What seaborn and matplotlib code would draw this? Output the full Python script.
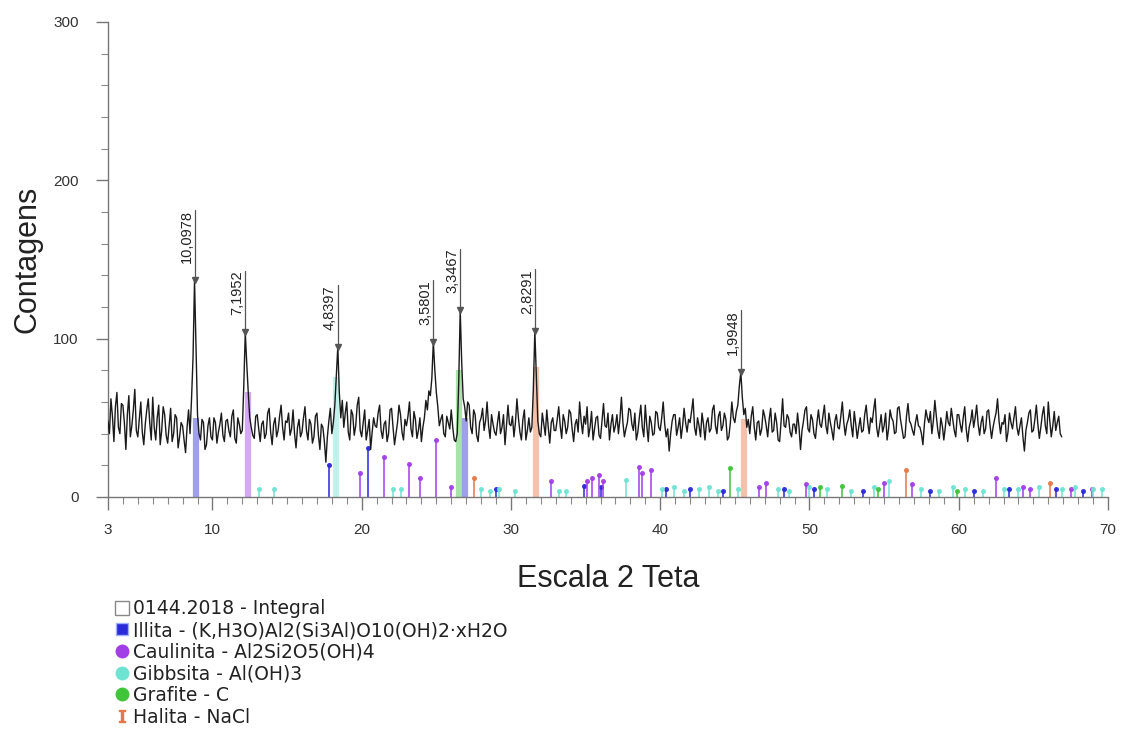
import numpy as np
import pandas as pd
import matplotlib
matplotlib.use("Agg")
import matplotlib.pyplot as plt
from matplotlib.lines import Line2D
from matplotlib.ticker import MultipleLocator
import seaborn as sns

# ---- measured diffractogram (2-theta step 0.1 deg, starting at 3.0) ----
counts = [
    48, 40, 62, 51, 35, 57, 66, 44, 40, 59,    # 3
    58, 47, 30, 52, 64, 38, 45, 55, 68, 42,    # 4
    38, 49, 60, 41, 33, 46, 55, 62, 47, 36,    # 5
    63, 44, 36, 50, 58, 33, 42, 57, 52, 39,    # 6
    34, 45, 56, 35, 40, 52, 50, 31, 38, 47,    # 7
    45, 36, 28, 44, 55, 40, 62, 88, 137, 96,   # 8
    52, 40, 36, 49, 47, 30, 33, 45, 50, 38,    # 9
    36, 50, 47, 34, 41, 46, 53, 39, 35, 48,    # 10
    49, 42, 38, 51, 55, 37, 34, 50, 46, 40,    # 11
    42, 70, 104, 84, 66, 50, 44, 39, 37, 51,   # 12
    52, 43, 35, 46, 48, 37, 40, 53, 56, 41,    # 13
    33, 46, 50, 38, 42, 51, 58, 44, 36, 48,    # 14
    47, 53, 39, 43, 55, 40, 31, 44, 49, 38,    # 15
    41, 50, 57, 42, 36, 49, 46, 34, 38, 51,    # 16
    53, 39, 30, 46, 44, 35, 22, 38, 48, 56,    # 17
    40, 47, 58, 76, 95, 66, 50, 61, 44, 53,    # 18
    60, 41, 36, 55, 52, 39, 45, 58, 63, 42,    # 19
    38, 47, 55, 36, 42, 49, 30, 41, 50, 45,    # 20
    44, 53, 58, 42, 37, 46, 48, 35, 40, 55,    # 21
    56, 44, 33, 40, 47, 58, 52, 41, 36, 49,    # 22
    45, 51, 60, 43, 38, 54, 49, 37, 42, 50,    # 23
    35, 44, 50, 61, 55, 67, 64, 75, 98, 80,    # 24
    66, 57, 45, 49, 52, 40, 38, 51, 47, 43,    # 25
    55, 44, 36, 35, 40, 72, 118, 85, 62, 57,   # 26
    48, 60, 58, 44, 40, 55, 52, 39, 35, 47,    # 27
    50, 56, 42, 48, 60, 45, 37, 52, 46, 41,    # 28
    39, 47, 54, 40, 44, 52, 33, 45, 58, 46,    # 29
    45, 51, 38, 47, 62, 50, 41, 36, 49, 55,    # 30
    36, 42, 50, 41, 44, 68, 105, 77, 48, 40,   # 31
    38, 53, 46, 39, 55, 44, 34, 47, 50, 42,    # 32
    42, 49, 57, 45, 37, 52, 48, 40, 44, 55,    # 33
    53, 43, 35, 46, 49, 41, 60, 48, 40, 51,    # 34
    46, 57, 38, 44, 54, 36, 43, 50, 51, 39,    # 35
    37, 48, 59, 45, 44, 53, 36, 46, 52, 41,    # 36
    45, 52, 40, 49, 63, 47, 38, 43, 47, 56,    # 37
    55, 46, 42, 53, 36, 41, 50, 58, 44, 38,    # 38
    58, 45, 35, 51, 47, 39, 40, 54, 53, 44,    # 39
    42, 50, 60, 46, 38, 43, 29, 40, 48, 52,    # 40
    52, 39, 44, 50, 37, 45, 56, 47, 41, 49,    # 41
    47, 54, 62, 44, 39, 50, 45, 38, 53, 46,    # 42
    36, 47, 50, 41, 43, 55, 58, 45, 40, 51,    # 43
    54, 42, 45, 53, 49, 36, 38, 47, 60, 50,    # 44
    47, 54, 58, 70, 79, 63, 52, 56, 44, 49,    # 45
    40, 51, 57, 44, 36, 47, 48, 39, 43, 55,    # 46
    51, 45, 38, 49, 56, 41, 42, 53, 47, 36,    # 47
    35, 48, 62, 45, 44, 52, 50, 41, 38, 46,    # 48
    46, 40, 53, 44, 30, 42, 48, 55, 57, 43,    # 49
    41, 52, 49, 40, 37, 47, 55, 46, 44, 51,    # 50
    58, 45, 40, 53, 47, 42, 36, 48, 52, 44,    # 51
    43, 51, 60, 47, 39, 46, 49, 55, 45, 38,    # 52
    54, 46, 37, 44, 50, 41, 42, 52, 58, 47,    # 53
    40, 50, 47, 55, 62, 44, 38, 45, 52, 41,    # 54
    45, 53, 36, 43, 55, 50, 48, 40, 41, 56,    # 55
    57, 49, 43, 37, 38, 51, 59, 48, 46, 42,    # 56
    39, 47, 52, 45, 44, 40, 33, 46, 55, 50,    # 57
    47, 54, 40, 48, 61, 51, 42, 37, 50, 45,    # 58
    36, 44, 54, 47, 45, 56, 49, 42, 38, 52,    # 59
    52, 46, 41, 50, 57, 43, 35, 44, 48, 55,    # 60
    44, 50, 58, 46, 39, 47, 51, 40, 43, 54,    # 61
    55, 45, 37, 44, 49, 53, 62, 48, 40, 47,    # 62
    46, 52, 35, 41, 53, 47, 43, 50, 57, 44,    # 63
    39, 45, 50, 38, 29, 42, 47, 53, 55, 41,    # 64
    42, 49, 58, 46, 37, 44, 52, 57, 45, 40,    # 65
    60, 48, 38, 45, 54, 42, 47, 51, 40, 38,    # 66
]
two_theta_start = 3.0
two_theta_step = 0.1

# ---- labelled reflections (2-theta position and d-spacing text) ----
peak_2theta = [8.8, 12.2, 18.4, 24.8, 26.6, 31.6, 45.4]
peak_labels = ["10,0978", "7,1952", "4,8397", "3,5801", "3,3467", "2,8291", "1,9948"]

# ---- reference patterns of identified phases (2-theta, relative height) ----
illita_pos = [8.88, 17.8, 20.4, 26.9, 29.0, 34.9, 36.0, 40.4, 42.0, 44.2, 48.3,
              50.3, 53.6, 58.1, 61.0, 63.4, 66.5, 68.3]
illita_h = [50, 20, 31, 50, 5, 7, 6, 5, 5, 4, 5, 5, 4, 4, 4, 5, 5, 4]

caulinita_pos = [12.35, 19.86, 21.5, 23.2, 23.9, 24.95, 26.0, 32.7, 35.1, 35.4,
                 35.9, 36.2, 38.6, 38.8, 39.4, 46.6, 47.1, 49.8, 55.0, 56.9,
                 62.5, 64.3, 64.8, 67.5, 68.9]
caulinita_h = [66, 15, 25, 21, 12, 36, 6, 10, 10, 12, 14, 10, 19, 15, 17, 6, 9,
               8, 9, 8, 12, 6, 5, 5, 5]

gibbsita_pos = [13.1, 14.1, 18.27, 22.1, 22.6, 28.0, 28.6, 29.2, 30.3, 33.2,
                33.7, 37.7, 40.1, 40.9, 41.6, 42.6, 43.3, 43.9, 45.2, 47.9,
                48.6, 50.0, 51.2, 52.8, 54.3, 55.3, 57.5, 58.7, 59.6, 60.4,
                61.6, 63.0, 64.0, 65.4, 66.9, 67.8, 69.0, 69.6]
gibbsita_h = [5, 5, 76, 5, 5, 5, 4, 5, 4, 4, 4, 11, 5, 6, 4, 5, 6, 4, 5, 5, 4,
              6, 5, 4, 6, 10, 5, 4, 6, 5, 4, 5, 5, 6, 5, 6, 5, 5]

grafite_pos = [26.5, 44.7, 50.7, 52.2, 54.6, 59.9]
grafite_h = [80, 18, 6, 7, 5, 4]

halita_pos = [27.5, 31.66, 45.6, 56.5, 66.1]
halita_h = [12, 82, 49, 17, 9]

phase_names = [
    "Illita - (K,H3O)Al2(Si3Al)O10(OH)2·xH2O",
    "Caulinita - Al2Si2O5(OH)4",
    "Gibbsita - Al(OH)3",
    "Grafite - C",
    "Halita - NaCl",
]
sample_name = "0144.2018 - Integral"

phases = [
    (illita_pos, illita_h, "#2a2ad8", "s"),
    (caulinita_pos, caulinita_h, "#a23ee8", "o"),
    (gibbsita_pos, gibbsita_h, "#6fe3d2", "o"),
    (grafite_pos, grafite_h, "#3fc43a", "o"),
    (halita_pos, halita_h, "#e5784a", r"$\mathtt{I}$"),
]

# ---- figure ----
sns.set_theme(style="ticks")
plt.rcParams["font.family"] = ["Liberation Sans", "DejaVu Sans"]

fig = plt.figure(figsize=(11.21, 7.40), dpi=100)
ax = fig.add_axes([0.0963, 0.3284, 0.8921, 0.6419])

two_theta = two_theta_start + two_theta_step * np.arange(len(counts))
df = pd.DataFrame({"2theta": two_theta, "counts": counts})

# phase sticks: strongest lines as broad translucent bars, others as thin sticks
for pos, h, color, mk in phases:
    pos = np.asarray(pos)
    h = np.asarray(h)
    strong = h >= 45
    ax.vlines(pos[strong], 0, h[strong], colors=color, lw=4.5, alpha=0.45, zorder=1)
    ax.vlines(pos[~strong], 0, h[~strong], colors=color, lw=1.3, alpha=0.85, zorder=1)
    ax.plot(pos[~strong], h[~strong], ls="none", marker="o", ms=2.6,
            color=color, alpha=0.9, zorder=1)

sns.lineplot(data=df, x="2theta", y="counts", ax=ax, color="#1a1a1a", lw=1.0,
             zorder=3, legend=False)

# peak markers with d-spacing labels
peak_idx = [int(round((p - two_theta_start) / two_theta_step)) for p in peak_2theta]
peak_counts = [counts[i] for i in peak_idx]
ax.plot(peak_2theta, peak_counts, ls="none", marker="v", ms=4, color="#555555",
        zorder=4)
texts = []
for x, y, lab in zip(peak_2theta, peak_counts, peak_labels):
    t = ax.annotate(lab, xy=(x, y), xytext=(-1, 17), textcoords="offset pixels",
                    rotation=90, ha="right", va="bottom", fontsize=10.5,
                    color="#222222", zorder=4)
    texts.append(t)

ax.set_xlim(3, 70)
ax.set_ylim(0, 300)
ax.set_xticks([3, 10, 20, 30, 40, 50, 60, 70])
ax.set_yticks([0, 100, 200, 300])
ax.xaxis.set_minor_locator(MultipleLocator(1))
ax.yaxis.set_minor_locator(MultipleLocator(20))
ax.tick_params(axis="both", which="major", labelsize=11, labelcolor="#333333",
               color="#777777", length=9, width=1, direction="out")
ax.tick_params(axis="both", which="minor", color="#888888", length=5, width=0.8,
               direction="out")
ax.tick_params(axis="x", pad=10)
ax.tick_params(axis="y", pad=12)
for s in ["top", "right"]:
    ax.spines[s].set_visible(False)
for s in ["left", "bottom"]:
    ax.spines[s].set_color("#777777")
    ax.spines[s].set_linewidth(1)

ax.set_xlabel("Escala 2 Teta", fontsize=22, labelpad=19, color="#222222")
ax.set_ylabel("Contagens", fontsize=22, labelpad=8, color="#222222")
ax.grid(False)

# vertical leader lines from each marker up to the top of its label
fig.canvas.draw()
renderer = fig.canvas.get_renderer()
inv = ax.transData.inverted()
for x, y, t in zip(peak_2theta, peak_counts, texts):
    bb = t.get_window_extent(renderer)
    y_top = inv.transform((0, bb.y1))[1]
    ax.plot([x, x], [y, y_top], color="#555555", lw=0.9, zorder=4)

# legend below the plot
handles = [
    Line2D([], [], ls="none", marker="s", ms=10, mfc="white", mec="#888888", mew=1),
]
for (pos, h, color, mk) in phases:
    handles.append(Line2D([], [], ls="none", marker=mk, ms=9, color=color,
                          mec="#9fb0ff" if mk == "s" else color))
leg = fig.legend(handles, [sample_name] + phase_names, loc="upper left",
                 bbox_to_anchor=(0.103, 0.190), frameon=False, borderpad=0,
                 borderaxespad=0, handlelength=0.7, handletextpad=0.25,
                 labelspacing=0.14, prop={"family": "DejaVu Sans", "size": 13.5})
for txt in leg.get_texts():
    txt.set_color("#222222")

fig.savefig("out.png", dpi=100, facecolor="white")
